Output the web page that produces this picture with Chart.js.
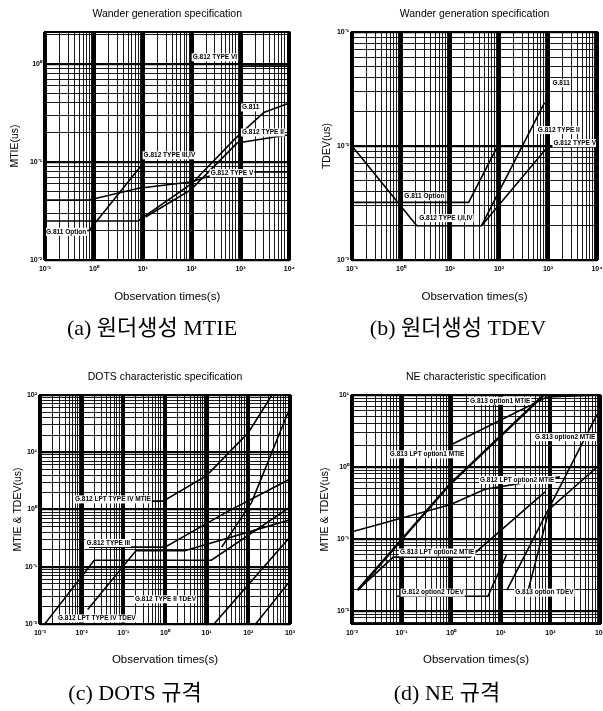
<!DOCTYPE html>
<html>
<head>
<meta charset="utf-8">
<title>Wander / DOTS / NE specification</title>
<script src="https://cdn.jsdelivr.net/npm/chart.js@4.4.0/dist/chart.umd.min.js"></script>
<style>
  html, body { margin: 0; padding: 0; background: #fff; overflow: hidden; }
  body { position: relative; width: 603px; height: 711px; }
  canvas { position: absolute; }
  .cap {
    position: absolute;
    font-family: "Liberation Serif", "Noto Sans CJK KR", serif;
    font-size: 22px;
    color: #000;
    white-space: nowrap;
    transform: translate(-50%, -50%);
  }
</style>
</head>
<body>
<canvas id="chartA" width="300" height="310" style="left:0;top:0"></canvas>
<canvas id="chartB" width="320" height="310" style="left:300px;top:0"></canvas>
<canvas id="chartC" width="300" height="320" style="left:0;top:360px"></canvas>
<canvas id="chartD" width="320" height="320" style="left:300px;top:360px"></canvas>

<div class="cap" style="left:152px;top:325px">(a) 원더생성 MTIE</div>
<div class="cap" style="left:458px;top:325px">(b) 원더생성 TDEV</div>
<div class="cap" style="left:135px;top:690px">(c) DOTS 규격</div>
<div class="cap" style="left:447px;top:690px">(d) NE 규격</div>

<script>
// ---- (a) wander generation MTIE (us) ----
const aTauG811 = [0.1, 8, 100, 750, 3000, 10000];
const aMtieG811 = [0.025, 0.025, 0.06, 0.17, 0.32, 0.4];
const aTauType34 = [0.1, 0.8, 9.5];
const aMtieType34 = [0.02, 0.02, 0.093];
const aTauType5 = [0.1, 0.8, 8.2, 96, 430, 10000];
const aMtieType5 = [0.041, 0.041, 0.054, 0.0625, 0.079, 0.079];
const aTauType2 = [11.4, 96, 850, 10000];
const aMtieType2 = [0.0275, 0.052, 0.156, 0.19];
const aTauType6 = [1000, 10000];
const aMtieType6 = [0.95, 0.95];
const aLabelText = ["G.812 TYPE VI", "G.811", "G.812 TYPE II", "G.812 TYPE III,IV", "G.812 TYPE V", "G.811 Option"];
const aLabelTau = [105, 1070, 1070, 10.4, 245, 0.105];
const aLabelVal = [1.17, 0.36, 0.2, 0.117, 0.077, 0.0194];

// ---- (b) wander generation TDEV (us) ----
const bTauOpt = [0.1, 24, 96];
const bTdevOpt = [0.0032, 0.0032, 0.0102];
const bTauType2 = [0.1, 2.1, 44, 850];
const bTdevType2 = [0.01, 0.002, 0.002, 0.024];
const bTauType5 = [44, 980, 10000];
const bTdevType5 = [0.002, 0.0098, 0.0098];
const bLabelText = ["G.811", "G.812 TYPE II", "G.812 TYPE V", "G.811 Option", "G.812 TYPE I,II,IV"];
const bLabelTau = [1230, 620, 1290, 1.17, 2.35];
const bLabelVal = [0.0355, 0.0138, 0.0106, 0.0036, 0.00233];

// ---- (c) DOTS characteristic (MTIE & TDEV, us) ----
const cTauLptMtie = [0.008, 0.9, 10, 100, 370];
const cLptMtie = [1.4, 1.4, 3.9, 22, 100];
const cTauT3Mtie = [0.015, 1, 30, 1000];
const cT3Mtie = [0.22, 0.22, 0.9, 3.4];
const cTauT2Mtie = [0.0013, 0.02, 13, 1000];
const cT2Mtie = [0.01, 0.13, 0.13, 1.1];
const cTauT4Tdev = [0.014, 0.2, 3, 1000];
const cT4Tdev = [0.018, 0.19, 0.19, 0.66];
const cTauT2Tdev = [15, 1000];
const cT2Tdev = [0.01, 0.33];
const cTauT3Tdev = [150, 1000];
const cT3Tdev = [0.01, 0.056];
const cTauT1Mtie = [23, 120, 1000];
const cT1Mtie = [0.22, 1.33, 60];
const cLabelText = ["G.812 LPT TYPE IV MTIE", "G.812 TYPE III", "G.812 TYPE II TDEV", "G.812 LPT TYPE IV TDEV"];
const cLabelTau = [0.0069, 0.013, 0.19, 0.0027];
const cLabelVal = [1.5, 0.26, 0.027, 0.0125];

// ---- (d) NE characteristic (MTIE & TDEV, us) ----
const dTauLpt1 = [0.01, 0.95, 4.8, 155];
const dLpt1 = [0.126, 0.3, 0.49, 0.73];
const dTauOpt1 = [0.013, 0.95, 85];
const dOpt1 = [0.0195, 0.58, 11];
const dTauLpt2 = [0.013, 0.068, 2.4, 78];
const dLpt2 = [0.0195, 0.056, 0.056, 0.45];
const dTauOpt2 = [0.95, 85, 1000];
const dOpt2 = [2.0, 9.4, 10];
const dTauTdev1 = [13.3, 875];
const dTdev1 = [0.0195, 5.4];
const dTauTdev2 = [36, 95, 875];
const dTdev2 = [0.02, 0.26, 1.0];
const dTauTdev3 = [0.08, 5.5, 13];
const dTdev3 = [0.016, 0.016, 0.06];
const dLabelText = ["G.813 option1 MTIE", "G.813 LPT option1 MTIE", "G.813 option2 MTIE", "G.812 LPT option2 MTIE", "G.813 LPT option2 MTIE", "G.812 option2 TDEV", "G.813 option TDEV"];
const dLabelTau = [2.4, 0.058, 49, 3.8, 0.093, 0.1, 19.5];
const dLabelVal = [8.3, 1.5, 2.6, 0.66, 0.065, 0.018, 0.018];


const FONT = '"Liberation Sans", Arial, sans-serif';
const SUP = { "-": "⁻", "0": "⁰", "1": "¹", "2": "²", "3": "³", "4": "⁴", "5": "⁵" };

function isDecade(v) {
  const l = Math.log10(v);
  return Math.abs(l - Math.round(l)) < 1e-6;
}

function decadeLabel(v) {
  if (!isDecade(v)) return "";
  const e = String(Math.round(Math.log10(v)));
  return "10" + e.split("").map((c) => SUP[c]).join("");
}

// 1..9 x 10^n ticks so every log grid line is drawn
function logTicks(min, max) {
  const out = [];
  for (let e = Math.floor(Math.log10(min)); e <= Math.ceil(Math.log10(max)); e++) {
    for (let k = 1; k <= 9; k++) {
      const v = k * Math.pow(10, e);
      if (v >= min * 0.999 && v <= max * 1.001) out.push({ value: v });
    }
  }
  return out;
}

function pairs(t, v) {
  return t.map((x, i) => ({ x: x, y: v[i] }));
}

// frame, panel title and in-plot curve labels
const panelDeco = {
  id: "panelDeco",
  afterDatasetsDraw(chart, args, opts) {
    const { ctx, scales } = chart;
    ctx.save();
    ctx.font = "bold 6.5px " + FONT;
    ctx.textBaseline = "middle";
    ctx.textAlign = "left";
    opts.text.forEach((txt, i) => {
      const x = scales.x.getPixelForValue(opts.tau[i]);
      const y = scales.y.getPixelForValue(opts.val[i]);
      const w = ctx.measureText(txt).width;
      ctx.fillStyle = "#fff";
      ctx.fillRect(x - 1, y - 4, w + 2, 8);
      ctx.fillStyle = "#000";
      ctx.fillText(txt, x, y);
    });
    ctx.restore();
  },
  afterDraw(chart, args, opts) {
    const { ctx, chartArea: a } = chart;
    ctx.save();
    ctx.strokeStyle = "#000";
    ctx.lineWidth = 2;
    ctx.strokeRect(a.left, a.top, a.right - a.left, a.bottom - a.top);
    ctx.fillStyle = "#000";
    ctx.font = "10.5px " + FONT;
    ctx.textAlign = "center";
    ctx.textBaseline = "middle";
    ctx.fillText(opts.title, (a.left + a.right) / 2, a.top - 18);
    ctx.restore();
  },
};

function makePanel(id, p) {
  const canvas = document.getElementById(id);
  const W = canvas.width, H = canvas.height;
  return new Chart(canvas, {
    type: "line",
    data: {
      datasets: p.series.map((s) => ({
        data: pairs(s.t, s.v),
        borderColor: "#000",
        borderWidth: s.w || 1.6,
        pointRadius: 0,
        fill: false,
        tension: 0,
      })),
    },
    options: {
      responsive: false,
      animation: false,
      devicePixelRatio: 1,
      layout: { padding: { left: 0, top: p.area.t, right: W - p.area.r, bottom: 0 } },
      plugins: {
        legend: { display: false },
        tooltip: { enabled: false },
        panelDeco: { title: p.title, text: p.labels.text, tau: p.labels.tau, val: p.labels.val },
      },
      scales: {
        x: {
          type: "logarithmic",
          min: p.xMin,
          max: p.xMax,
          bounds: "data",
          afterBuildTicks: (s) => { s.ticks = logTicks(p.xMin, p.xMax); },
          afterFit: (s) => { s.height = H - p.area.b; },
          border: { display: false },
          grid: {
            color: "#000",
            drawTicks: false,
            lineWidth: (c) => (c.tick && isDecade(c.tick.value) ? 4 : 0.9),
          },
          ticks: {
            autoSkip: false,
            maxRotation: 0,
            padding: 5,
            color: "#000",
            font: { size: 7, weight: "bold", family: FONT },
            callback: (v) => decadeLabel(v),
          },
          title: {
            display: true,
            text: "Observation times(s)",
            color: "#000",
            font: { size: 11.5, family: FONT },
            padding: { top: 0, bottom: p.xTitlePad },
          },
        },
        y: {
          type: "logarithmic",
          min: p.yMin,
          max: p.yMax,
          bounds: "data",
          afterBuildTicks: (s) => { s.ticks = logTicks(p.yMin, p.yMax); },
          afterFit: (s) => { s.width = p.area.l; },
          border: { display: false },
          grid: {
            color: "#000",
            drawTicks: false,
            lineWidth: (c) => (c.tick && isDecade(c.tick.value) ? 2.2 : 0.9),
          },
          ticks: {
            autoSkip: false,
            padding: 3,
            color: "#000",
            font: { size: 7, weight: "bold", family: FONT },
            callback: (v) => decadeLabel(v),
          },
          title: {
            display: true,
            text: p.yTitle,
            color: "#000",
            font: { size: 10.5, family: FONT },
            padding: { top: p.yTitlePad, bottom: 0 },
          },
        },
      },
    },
    plugins: [panelDeco],
  });
}

makePanel("chartA", {
  title: "Wander generation specification",
  yTitle: "MTIE(us)",
  area: { l: 45, t: 32, r: 293, b: 260 },
  xMin: 0.1, xMax: 10000, yMin: 0.01, yMax: 2.12,
  xTitlePad: 6, yTitlePad: 9,
  series: [
    { t: aTauG811, v: aMtieG811 },
    { t: aTauType34, v: aMtieType34 },
    { t: aTauType5, v: aMtieType5 },
    { t: aTauType2, v: aMtieType2 },
    { t: aTauType6, v: aMtieType6 },
  ],
  labels: { text: aLabelText, tau: aLabelTau, val: aLabelVal },
});

makePanel("chartB", {
  title: "Wander generation specification",
  yTitle: "TDEV(us)",
  area: { l: 52, t: 32, r: 297, b: 260 },
  xMin: 0.1, xMax: 10000, yMin: 0.001, yMax: 0.1,
  xTitlePad: 6, yTitlePad: 21,
  series: [
    { t: bTauOpt, v: bTdevOpt },
    { t: bTauType2, v: bTdevType2 },
    { t: bTauType5, v: bTdevType5 },
  ],
  labels: { text: bLabelText, tau: bLabelTau, val: bLabelVal },
});

makePanel("chartC", {
  title: "DOTS characteristic specification",
  yTitle: "MTIE & TDEV(us)",
  area: { l: 40, t: 35, r: 290, b: 264 },
  xMin: 0.001, xMax: 1000, yMin: 0.01, yMax: 100,
  xTitlePad: 13, yTitlePad: 12,
  series: [
    { t: cTauLptMtie, v: cLptMtie },
    { t: cTauT3Mtie, v: cT3Mtie },
    { t: cTauT2Mtie, v: cT2Mtie },
    { t: cTauT4Tdev, v: cT4Tdev },
    { t: cTauT2Tdev, v: cT2Tdev },
    { t: cTauT3Tdev, v: cT3Tdev },
    { t: cTauT1Mtie, v: cT1Mtie },
  ],
  labels: { text: cLabelText, tau: cLabelTau, val: cLabelVal },
});

makePanel("chartD", {
  title: "NE characteristic specification",
  yTitle: "MTIE & TDEV(us)",
  area: { l: 52, t: 35, r: 300, b: 264 },
  xMin: 0.01, xMax: 1000, yMin: 0.0066, yMax: 10,
  xTitlePad: 13, yTitlePad: 19,
  series: [
    { t: dTauLpt1, v: dLpt1 },
    { t: dTauOpt1, v: dOpt1, w: 2.4 },
    { t: dTauLpt2, v: dLpt2 },
    { t: dTauOpt2, v: dOpt2 },
    { t: dTauTdev1, v: dTdev1 },
    { t: dTauTdev2, v: dTdev2 },
    { t: dTauTdev3, v: dTdev3 },
  ],
  labels: { text: dLabelText, tau: dLabelTau, val: dLabelVal },
});
</script>
</body>
</html>
